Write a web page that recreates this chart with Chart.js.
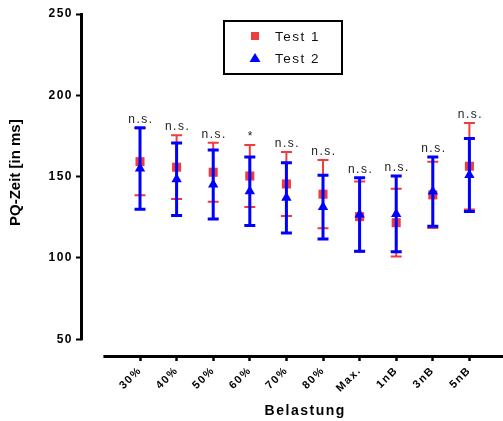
<!DOCTYPE html>
<html>
<head>
<meta charset="utf-8">
<script src="https://cdn.jsdelivr.net/npm/chart.js@4.4.0/dist/chart.umd.min.js"></script>
<style>
html, body { margin: 0; padding: 0; background: #fff; }
</style>
</head>
<body>
<canvas id="grafico_pq" width="503" height="421"></canvas>
<script>
const belastung = ['30%', '40%', '50%', '60%', '70%', '80%', 'Max.', '1nB', '3nB', '5nB'];
const test1Mittel = [159.2, 155.8, 152.7, 150.4, 145.5, 139.2, 125.4, 121.7, 138.8, 156.4];
const test1SD = [20.6, 19.6, 18.2, 19.1, 19.7, 21.0, 21.6, 20.8, 20.4, 26.6];
const test2Mittel = [155.0, 148.4, 145.2, 141.0, 137.0, 131.3, 126.7, 127.1, 140.8, 151.0];
const test2SD = [25.1, 22.3, 21.2, 21.1, 21.6, 19.6, 22.6, 23.3, 21.3, 22.5];
const signifikanz = ['n.s.', 'n.s.', 'n.s.', '*', 'n.s.', 'n.s.', 'n.s.', 'n.s.', 'n.s.', 'n.s.'];
const yTicks = [50, 100, 150, 200, 250];

const ROT = '#f03c3c';
const BLAU = '#0000ff';
const SCHRIFT = '"Liberation Sans", Arial, sans-serif';

// Fehlerbalken, Achsen, Legende und Beschriftungen
const pqPlugin = {
    id: 'pqPlugin',
    beforeLayout(chart) { chart.ctx.letterSpacing = '1.5px'; },
    beforeDraw(chart) { chart.ctx.letterSpacing = '1.5px'; },
    beforeDatasetDraw(chart, args) {
        const ds = chart.data.datasets[args.index];
        const ctx = chart.ctx;
        const x = chart.scales.x, y = chart.scales.y;
        ctx.save();
        ctx.strokeStyle = ds.borderColor;
        ctx.lineWidth = ds.fehlerBreite;
        ctx.beginPath();
        ds.mittel.forEach((m, i) => {
            const px = x.getPixelForValue(i);
            const oben = y.getPixelForValue(m + ds.sd[i]);
            const unten = y.getPixelForValue(m - ds.sd[i]);
            ctx.moveTo(px, oben); ctx.lineTo(px, unten);
            ctx.moveTo(px - 5.5, oben); ctx.lineTo(px + 5.5, oben);
            ctx.moveTo(px - 5.5, unten); ctx.lineTo(px + 5.5, unten);
        });
        ctx.stroke();
        ctx.restore();
    },
    afterDraw(chart) {
        const ctx = chart.ctx;
        const x = chart.scales.x, y = chart.scales.y;
        const area = chart.chartArea;
        ctx.save();
        // Achsenlinien
        ctx.strokeStyle = '#000';
        ctx.lineWidth = 3;
        ctx.beginPath();
        ctx.moveTo(area.left - 0.5, y.getPixelForValue(250) - 1);
        ctx.lineTo(area.left - 0.5, y.getPixelForValue(50) + 1);
        ctx.moveTo(x.getPixelForValue(-1), area.bottom + 0.5);
        ctx.lineTo(area.right, area.bottom + 0.5);
        ctx.stroke();

        // Signifikanz
        ctx.fillStyle = '#222';
        ctx.font = '12px ' + SCHRIFT;
        ctx.textAlign = 'center';
        ctx.textBaseline = 'alphabetic';
        signifikanz.forEach((s, i) => {
            const top = Math.max(test1Mittel[i] + test1SD[i], test2Mittel[i] + test2SD[i]);
            ctx.fillText(s, x.getPixelForValue(i) + 1, y.getPixelForValue(top) - 5);
        });

        // Legende
        ctx.strokeStyle = '#000';
        ctx.lineWidth = 2;
        ctx.strokeRect(224, 21, 118, 53);
        ctx.fillStyle = ROT;
        ctx.fillRect(251, 32, 8, 8);
        ctx.fillStyle = BLAU;
        ctx.beginPath();
        ctx.moveTo(255, 53); ctx.lineTo(260.5, 62); ctx.lineTo(249.5, 62); ctx.closePath();
        ctx.fill();
        ctx.fillStyle = '#111';
        ctx.font = '13.5px ' + SCHRIFT;
        ctx.textAlign = 'left';
        ctx.textBaseline = 'middle';
        ctx.fillText(chart.data.datasets[1].label, 275, 37);
        ctx.fillText(chart.data.datasets[0].label, 275, 59);

        // Achsentitel
        ctx.fillStyle = '#000';
        ctx.font = 'bold 14px ' + SCHRIFT;
        ctx.textAlign = 'center';
        ctx.textBaseline = 'alphabetic';
        ctx.fillText('Belastung', (x.getPixelForValue(-1) + area.right) / 2 + 2, 415);

        ctx.letterSpacing = '0px';
        ctx.translate(16, (y.getPixelForValue(50) + y.getPixelForValue(250)) / 2 - 4);
        ctx.rotate(-Math.PI / 2);
        ctx.font = 'bold 15px ' + SCHRIFT;
        ctx.textBaseline = 'middle';
        ctx.fillText('PQ-Zeit [in ms]', 0, 0);
        ctx.restore();
    }
};

const ctxPQ = document.getElementById('grafico_pq');

new Chart(ctxPQ, {
    type: 'scatter',
    data: {
        datasets: [{
            label: 'Test 2',
            data: test2Mittel.map((v, i) => ({ x: i, y: v })),
            mittel: test2Mittel,
            sd: test2SD,
            fehlerBreite: 3,
            pointStyle: 'triangle',
            pointRadius: 6,
            backgroundColor: BLAU,
            borderColor: BLAU,
            borderWidth: 0,
            order: 1
        }, {
            label: 'Test 1',
            data: test1Mittel.map((v, i) => ({ x: i, y: v })),
            mittel: test1Mittel,
            sd: test1SD,
            fehlerBreite: 2,
            pointStyle: 'rect',
            pointRadius: 6.4,
            backgroundColor: ROT,
            borderColor: ROT,
            borderWidth: 0,
            order: 2
        }]
    },
    options: {
        responsive: false,
        animation: false,
        layout: { autoPadding: false, padding: { top: 14, right: 0, bottom: 0, left: 0 } },
        plugins: {
            legend: { display: false },
            tooltip: { enabled: false }
        },
        scales: {
            x: {
                type: 'linear',
                min: -1.585,
                max: 9.918,
                afterBuildTicks: (scale) => { scale.ticks = belastung.map((b, i) => ({ value: i })); },
                afterFit: (scale) => {
                    scale.height = 65;
                    scale.paddingLeft = 0;
                    scale.paddingRight = 0;
                },
                border: { display: false },
                grid: {
                    drawOnChartArea: false,
                    drawTicks: true,
                    tickLength: 5,
                    tickWidth: 2.5,
                    tickColor: '#000'
                },
                ticks: {
                    autoSkip: false,
                    minRotation: 45,
                    maxRotation: 45,
                    padding: 3,
                    color: '#000',
                    font: { family: SCHRIFT, size: 11, weight: 'bold' },
                    callback: (v) => belastung[v]
                }
            },
            y: {
                min: 39.73,
                max: 250,
                afterBuildTicks: (scale) => { scale.ticks = yTicks.map(v => ({ value: v })); },
                afterFit: (scale) => {
                    scale.width = 82;
                    scale.paddingTop = 0;
                    scale.paddingBottom = 0;
                },
                border: { display: false },
                grid: {
                    drawOnChartArea: false,
                    drawTicks: true,
                    tickLength: 6,
                    tickWidth: 2,
                    tickColor: '#000'
                },
                ticks: {
                    padding: 3,
                    color: '#000',
                    font: { family: SCHRIFT, size: 12, weight: 'bold' }
                }
            }
        }
    },
    plugins: [pqPlugin]
});
</script>
</body>
</html>
